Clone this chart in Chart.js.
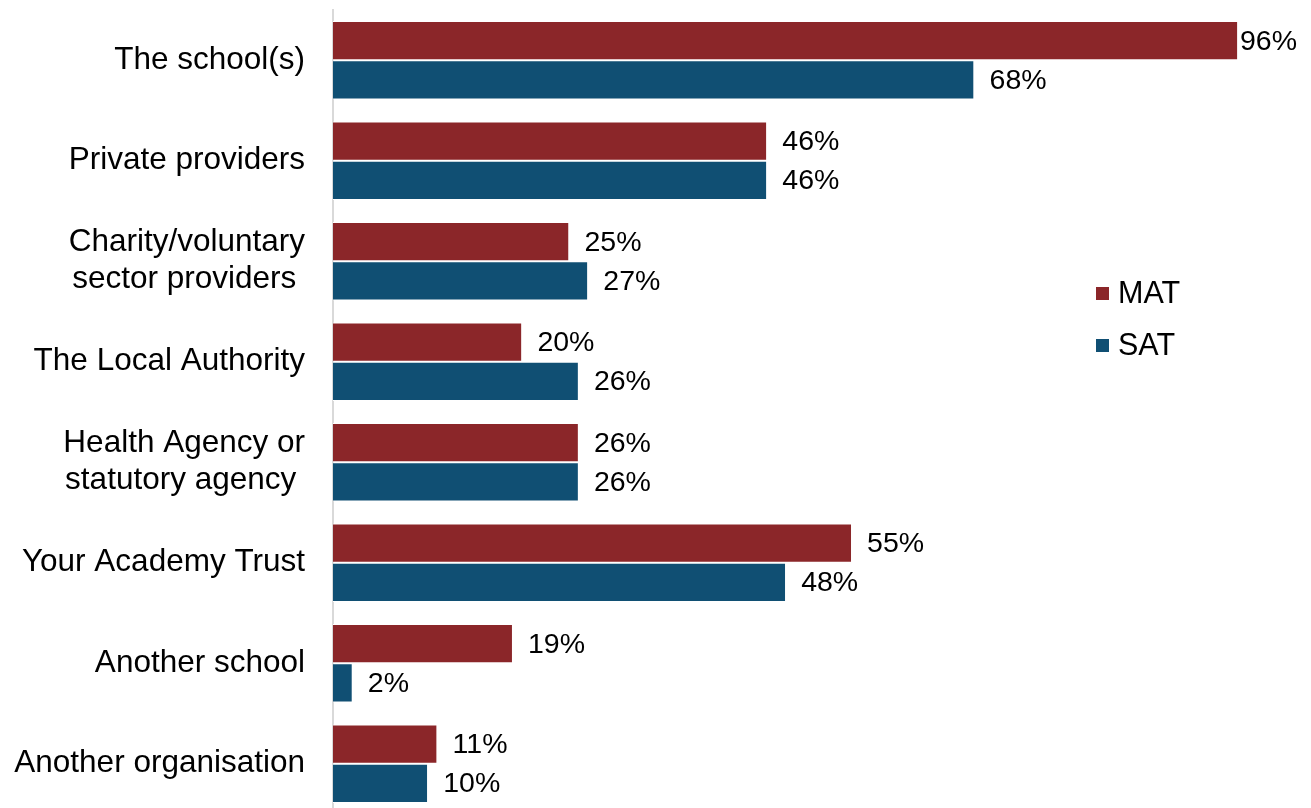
<!DOCTYPE html>
<html>
<head>
<meta charset="utf-8">
<title>Support sources by trust type</title>
<script src="https://cdn.jsdelivr.net/npm/chart.js@4/dist/chart.umd.min.js"></script>
<style>
    html, body { margin: 0; padding: 0; background: #fff; overflow: hidden; }
    #wrap { position: relative; width: 1311px; height: 814px; }
</style>
</head>
<body>
<div id="wrap"><canvas id="chart"></canvas></div>
<script>
// 数据
const categories = [
    'The school(s)',
    'Private providers',
    ['Charity/voluntary', 'sector providers '],
    'The Local Authority',
    ['Health Agency or', 'statutory agency '],
    'Your Academy Trust',
    'Another school',
    'Another organisation'
];
const matValues = [96, 46, 25, 20, 26, 55, 19, 11];
const satValues = [68, 46, 27, 26, 26, 48, 2, 10];
const seriesNames = ['MAT', 'SAT'];
const seriesColors = ['#8B2629', '#104F73'];

const FONT = "'Liberation Sans', Arial, sans-serif";
const CAT_SIZE = 31.5;
const VALUE_SIZE = 28.5;
const LEGEND_SIZE = 30.5;

/**
 * 数据标签：画在每根柱子末端
 */
const valueLabels = {
    id: 'valueLabels',
    afterDatasetsDraw(chart) {
        const ctx = chart.ctx;
        ctx.save();
        ctx.font = VALUE_SIZE + 'px ' + FONT;
        ctx.fillStyle = '#000';
        ctx.textAlign = 'left';
        ctx.textBaseline = 'middle';
        chart.data.datasets.forEach((ds, i) => {
            const meta = chart.getDatasetMeta(i);
            meta.data.forEach((bar, j) => {
                const text = ds.data[j] + '%';
                const w = ctx.measureText(text).width;
                let x = bar.x + 16;
                // 靠右时往回收，避免超出画布
                if (x + w > chart.width - 14) x = chart.width - 14 - w;
                ctx.fillText(text, x, bar.y + 1);
            });
        });
        ctx.restore();
    }
};

/**
 * 图例：右侧小方块 + 文本
 */
const sideLegend = {
    id: 'sideLegend',
    afterDraw(chart) {
        const ctx = chart.ctx;
        ctx.save();
        ctx.font = LEGEND_SIZE + 'px ' + FONT;
        ctx.textBaseline = 'middle';
        chart.data.datasets.forEach((ds, i) => {
            const y = 294 + i * 52;
            ctx.fillStyle = ds.backgroundColor;
            ctx.fillRect(1096, y - 7, 13, 13);
            ctx.fillStyle = '#000';
            ctx.fillText(ds.label, 1118, y + 1);
        });
        ctx.restore();
    }
};

const datasets = [matValues, satValues].map((values, i) => ({
    label: seriesNames[i],
    data: values,
    backgroundColor: seriesColors[i],
    borderColor: '#ffffff',
    borderWidth: { top: 1, bottom: 1, left: 0, right: 0 },
    borderSkipped: false,
    categoryPercentage: 0.78,
    barPercentage: 1.0
}));

new Chart(document.getElementById('chart'), {
    type: 'bar',
    data: { labels: categories, datasets: datasets },
    options: {
        indexAxis: 'y',
        responsive: true,
        maintainAspectRatio: false,
        animation: false,
        layout: { padding: { top: 10, right: 36, bottom: 0, left: 0 } },
        plugins: {
            legend: { display: false },
            tooltip: { enabled: false }
        },
        scales: {
            x: {
                display: false,
                min: 0,
                max: 100
            },
            y: {
                grid: { display: false, drawTicks: false },
                border: { display: true, color: '#d9d9d9', width: 2 },
                ticks: {
                    color: '#000',
                    padding: 28,
                    font: { family: FONT, size: CAT_SIZE, lineHeight: 1.175 }
                },
                afterFit(scale) {
                    scale.width = 333;
                    // 标签高度不再挤占上下空间
                    scale.paddingTop = 0;
                    scale.paddingBottom = 0;
                }
            }
        }
    },
    plugins: [valueLabels, sideLegend]
});
</script>
</body>
</html>
